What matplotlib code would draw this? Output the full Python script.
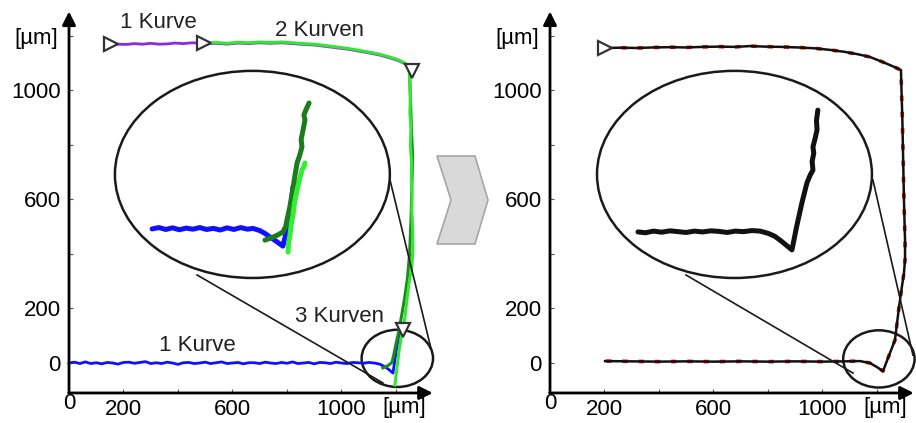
import numpy as np
import matplotlib.pyplot as plt
from matplotlib.patches import Ellipse, Polygon

plt.rcParams['font.family'] = ['Liberation Sans', 'DejaVu Sans']

# ---- left panel: measured curves (µm) ----
blue_y = [0, 3, -2, 4, -2, 1, -3, 2, 0, -4, 2, 3, -1, 2, 5, -2, 1, -2, 3, 0,
          -5, 1, 2, -2, 0, 3, -2, 1, 4, -2, 0, 2, -3, 1, 1, -2, 3, 0, -2, 2,
          -1, 4, -2, 0, 2, -3, 2, 1, -2, 3, 0, -2, 2, 1, -1, 2, 0]
blue_tail_x = [1140, 1160, 1175, 1189, 1195, 1202, 1210, 1218]
blue_tail_y = [-4, -14, -25, -37, 5, 50, 95, 140]

purple_x = [154, 180, 210, 240, 270, 300, 330, 360, 390, 420, 450, 495]
purple_y = [1168, 1170, 1169, 1172, 1170, 1173, 1170, 1171, 1174, 1172, 1175, 1174]

top_x = [495, 540, 580, 620, 660, 700, 740, 780, 820, 860, 900, 940, 980,
         1020, 1060, 1100, 1140, 1180, 1210, 1233, 1248]
top_y = [1174, 1176, 1173, 1177, 1175, 1178, 1176, 1178, 1175, 1172, 1170,
         1165, 1160, 1155, 1148, 1141, 1133, 1122, 1112, 1101, 1083]
down_x = [1250, 1253, 1251, 1255, 1253, 1257, 1256, 1259, 1258, 1261, 1262,
          1258, 1248, 1240, 1233, 1222, 1212, 1204, 1196]
down_y = [1040, 980, 920, 860, 800, 740, 680, 620, 560, 500, 415, 350, 294,
          230, 169, 110, 50, -15, -81]

dgreen_x = [1152, 1170, 1185, 1192, 1200, 1210, 1220, 1232, 1242, 1250, 1255,
            1258, 1261, 1256, 1252, 1250]
dgreen_y = [-18, -10, 2, 30, 70, 115, 170, 240, 310, 400, 520, 640, 760, 880,
            1000, 1080]

# zoomed view (left)
zb_x = [305, 330, 355, 380, 405, 430, 455, 480, 505, 530, 555, 580, 605, 630,
        655, 675, 700, 720, 738, 760, 785, 795, 804, 815, 822, 832, 840]
zb_y = [492, 497, 490, 496, 489, 495, 491, 497, 490, 494, 488, 496, 490, 497,
        491, 494, 486, 475, 462, 447, 429, 470, 514, 580, 646, 655, 661]
zdg_x = [719, 745, 770, 785, 795, 800, 810, 818, 828, 837, 846, 855, 852, 859,
         866, 862, 870, 881]
zdg_y = [451, 460, 472, 481, 500, 525, 570, 617, 680, 734, 760, 793, 820, 855,
         892, 910, 930, 954]
zlg_x = [804, 806, 811, 815, 822, 828, 837, 845, 855, 862, 866]
zlg_y = [407, 440, 470, 505, 543, 590, 635, 670, 708, 720, 734]

# ---- right panel: fitted curve ----
r_x = [202, 260, 320, 380, 440, 500, 560, 620, 680, 734, 790, 850, 910, 970,
       1028, 1080, 1130, 1174, 1220, 1260, 1288,
       1290, 1293, 1295, 1297, 1299, 1301, 1303, 1303, 1299, 1290, 1281, 1266,
       1245, 1222,
       1200, 1174, 1138, 1080, 1000, 900, 800, 700, 600, 500, 400, 300, 202]
r_y = [1156, 1157, 1156, 1158, 1159, 1158, 1160, 1161, 1160, 1163, 1161, 1160,
       1158, 1155, 1149, 1142, 1133, 1123, 1105, 1088, 1075,
       1000, 900, 800, 700, 600, 520, 451, 380, 330, 270, 206, 84, 30, -30,
       -15, 0, 7, 6, 5, 6, 5, 6, 5, 6, 5, 6, 7]
zr_x = [323, 350, 380, 410, 440, 470, 500, 530, 560, 590, 620, 650, 680, 710,
        740, 771, 800, 825, 844, 865, 888, 905, 925, 943, 955, 965, 962, 968,
        965, 972, 980, 978, 983]
zr_y = [481, 478, 484, 480, 485, 482, 479, 484, 481, 485, 483, 479, 484, 482,
        486, 484, 476, 465, 451, 434, 415, 500, 590, 661, 690, 708, 740, 770,
        793, 820, 855, 890, 928]

fig = plt.figure(figsize=(9.16, 4.23), dpi=100)
ax1 = fig.add_axes([0.06938, 0.06454, 0.40753, 0.91478])
ax2 = fig.add_axes([0.59449, 0.06454, 0.40753, 0.91478])


def setup(ax):
    ax.set_xlim(-20, 1350)
    ax.set_ylim(-120, 1300)
    for s in ax.spines.values():
        s.set_visible(False)
    ax.spines['left'].set_position(('data', 0))
    ax.spines['bottom'].set_position(('data', -110))
    ax.set_xticks([200, 400, 600, 800, 1000, 1200])
    ax.set_xticklabels(['200', '', '600', '', '1000', ''])
    ax.set_yticks([0, 200, 400, 600, 800, 1000, 1200])
    ax.set_yticklabels(['0', '200', '', '600', '', '1000', ''])
    ax.tick_params(direction='in', length=3, width=0.8, color='#555',
                   labelsize=16, pad=4)
    ax.tick_params(axis='y', pad=6)
    ax.annotate('', xy=(0, 1290), xytext=(0, -111),
                arrowprops=dict(arrowstyle='-|>', lw=2, color='black',
                                mutation_scale=20, shrinkA=0, shrinkB=0),
                annotation_clip=False)
    ax.annotate('', xy=(1335, -110), xytext=(-1, -110),
                arrowprops=dict(arrowstyle='-|>', lw=2, color='black',
                                mutation_scale=20, shrinkA=0, shrinkB=0),
                annotation_clip=False)
    ax.text(0, -150, '0', fontsize=16, ha='center', va='center')
    ax.text(-121, 1190, '[µm]', fontsize=16, ha='center', va='center')
    ax.text(1232, -165, '[µm]', fontsize=16, ha='center', va='center',
            clip_on=False)


setup(ax1)
setup(ax2)

# left panel
bx = np.linspace(0, 1120, len(blue_y))
ax1.plot(list(bx) + blue_tail_x, blue_y + blue_tail_y, color='#1010ff', lw=2)
ax1.plot(purple_x + top_x, purple_y + [v - 3 for v in top_y],
         color='#8a2be2', lw=2)
ax1.plot(dgreen_x, dgreen_y, color='#1d8a1d', lw=2.2)
ax1.plot(top_x + down_x, top_y + down_y, color='#33e633', lw=2.2)

ax1.plot(zb_x, zb_y, color='#1010ff', lw=3.6, solid_capstyle='round')
ax1.plot(zdg_x, zdg_y, color='#1d7a1d', lw=3.6, solid_capstyle='round')
ax1.plot(zlg_x, zlg_y, color='#33ee33', lw=3.6, solid_capstyle='round')

mk = dict(mfc='white', mec='#333333', mew=1.6, ms=10, ls='none', zorder=5)
ax1.plot([154, 495], [1171, 1174], marker='>', **mk)
ax1.plot([1259, 1226], [1072, 121], marker='v', **mk)

ax1.text(327, 1251, '1 Kurve', fontsize=16, ha='center', va='center', color='#222')
ax1.text(921, 1222, '2 Kurven', fontsize=16, ha='center', va='center', color='#222')
ax1.text(470, 66, '1 Kurve', fontsize=16, ha='center', va='center', color='#222')
ax1.text(994, 169, '3 Kurven', fontsize=16, ha='center', va='center', color='#222')

# right panel
ax2.plot(r_x, r_y, color='#e01010', lw=2.6, ls=(0, (1.5, 3)))
ax2.plot(r_x, r_y, color='#111111', lw=1.8)
ax2.plot(zr_x, zr_y, color='#111111', lw=3.6, solid_capstyle='round')
ax2.plot([202], [1156], marker='>', **mk)

# magnifier ellipses and connectors
for ax, big, small, l1, l2 in [
        (ax1, (673, 692), (1205, 17), [(470, 323), (1152, -73)],
         [(1178, 672), (1328, 55)]),
        (ax2, (677, 692), (1207, 15), [(499, 323), (1112, -37)],
         [(1185, 672), (1332, 29)])]:
    ax.add_patch(Ellipse(big, 1009, 760, fill=False, lw=1.8, ec='#1a1a1a',
                         clip_on=False))
    ax.add_patch(Ellipse(small, 262, 210, fill=False, lw=1.8, ec='#1a1a1a',
                         clip_on=False))
    for p, q in (l1, l2):
        ax.plot([p[0], q[0]], [p[1], q[1]], color='#1a1a1a', lw=1.2,
                clip_on=False)

# grey chevron between the panels
pts = [(437, 156), (475, 156), (488, 200), (475, 244), (437, 244), (451, 200)]
fig.add_artist(Polygon([(x / 916, 1 - y / 423) for x, y in pts],
                       closed=True, fc='#d9d9d9', ec='#a6a6a6', lw=1.2,
                       transform=fig.transFigure))

fig.savefig('out.png', dpi=100)
